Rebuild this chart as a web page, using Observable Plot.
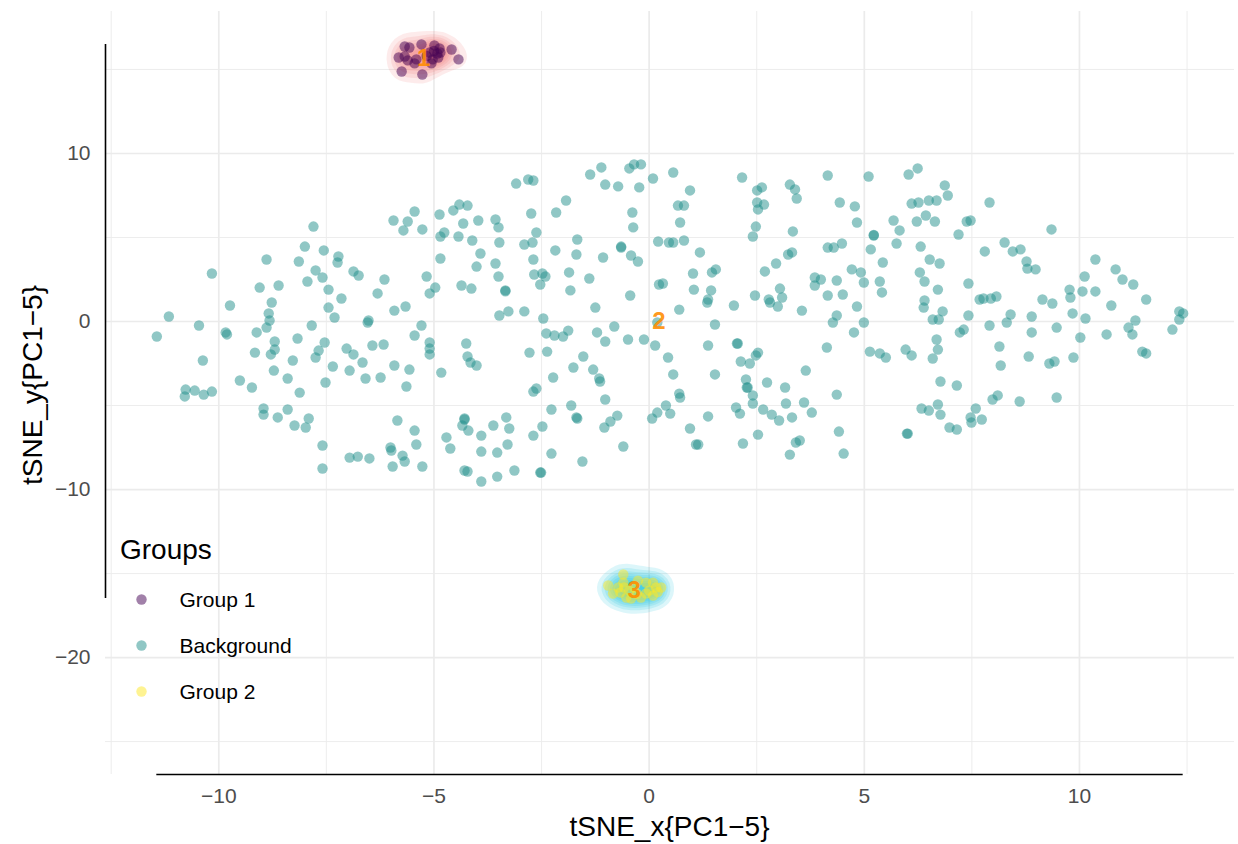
<!DOCTYPE html>
<html><head><meta charset="utf-8">
<script src="https://cdn.jsdelivr.net/npm/d3@7"></script>
<script src="https://cdn.jsdelivr.net/npm/@observablehq/plot@0.6"></script>
<style>
body{margin:0;background:#fff}
#wrap{position:relative;width:1238px;height:844px;font-family:"Liberation Sans",Arial,Helvetica,sans-serif}
#wrap svg.overlay{position:absolute;left:0;top:0;pointer-events:none}
</style>
</head><body><div id="wrap"></div>
<script>
// ---------- data (t-SNE coordinates) ----------
const groupNames = ["Group 1", "Background", "Group 2"];
const groupColors = ["#440154", "#21908C", "#FDE725"];

const backgroundXY = [
[-10.16,2.86],[-8.89,3.69],[-9.05,2.02],[-8.61,2.14],[-8.14,3.57],[-8.00,4.46],[-7.80,5.65],[-7.56,4.23],[-7.75,3.04],[-7.94,2.38],
[-7.59,2.62],[-7.45,1.90],[-7.22,3.87],[-7.24,3.51],[-6.87,2.98],[-6.75,2.74],[-6.15,2.50],[-6.31,1.67],[-7.15,1.37],[-5.94,6.01],
[-5.61,5.95],[-5.45,6.55],[-5.71,5.42],[-5.27,5.48],[-4.87,6.37],[-4.55,6.61],[-4.41,6.96],[-4.22,6.90],[-4.32,5.83],[-3.97,6.01],
[-4.85,5.06],[-4.76,5.30],[-4.43,5.06],[-4.11,4.82],[-3.92,4.05],[-4.01,3.27],[-3.57,6.07],[-3.50,5.60],[-3.48,4.70],[-3.57,3.45],
[-3.50,2.68],[-4.85,3.75],[-5.17,2.68],[-4.97,2.02],[-5.10,1.67],[-4.36,2.14],[-4.13,1.96],[-8.77,1.13],[-7.45,0.83],[-7.31,0.24],
[-5.92,0.65],[-5.66,0.89],[-3.48,0.36],[-8.84,0.48],[-8.82,0.06],[-8.89,-0.36],[-9.74,0.95],[-11.16,0.30],[-11.44,-0.89],[-10.46,-0.24],
[-9.84,-0.65],[-9.81,-0.77],[-10.37,-2.32],[-9.12,-0.65],[-8.70,-1.19],[-8.70,-1.67],[-8.79,-1.96],[-9.16,-1.85],[-8.28,-2.32],[-8.17,-1.01],
[-7.84,-0.24],[-7.68,-1.73],[-7.75,-2.14],[-7.54,-1.25],[-7.35,-2.68],[-6.96,-2.92],[-7.03,-1.61],[-6.87,-1.96],[-6.66,-2.44],[-6.59,-3.39],
[-6.43,-1.43],[-6.17,-1.37],[-6.24,-3.33],[-5.92,-2.62],[-5.57,-2.86],[-5.64,-3.87],[-5.45,-0.83],[-5.29,-0.24],[-5.10,-1.25],[-5.10,-1.61],
[-5.10,-1.96],[-4.83,-3.04],[-4.25,-1.31],[-4.22,-2.08],[-4.15,-2.44],[-4.01,-2.62],[-6.54,-0.06],[-6.52,0.06],[-8.72,-2.92],[-8.40,-3.39],
[-8.12,-4.23],[-9.51,-3.51],[-9.23,-3.93],[-7.52,-3.63],[-10.77,-4.05],[-10.79,-4.46],[-10.56,-4.11],[-10.35,-4.35],[-10.16,-4.17],[-8.96,-5.18],
[-8.96,-5.54],[-8.63,-5.71],[-8.40,-5.24],[-8.24,-6.19],[-7.98,-6.31],[-7.91,-5.77],[-7.59,-7.38],[-7.59,-8.75],[-6.96,-8.10],[-6.77,-8.04],
[-6.50,-8.15],[-6.01,-7.50],[-5.99,-7.68],[-5.96,-8.63],[-5.73,-7.98],[-5.68,-8.33],[-5.85,-5.89],[-5.45,-6.49],[-5.41,-7.32],[-5.27,-8.63],
[-4.71,-6.90],[-4.62,-7.56],[-4.29,-5.83],[-4.29,-5.77],[-4.34,-6.19],[-4.20,-6.49],[-3.90,-6.79],[-3.90,-7.74],[-3.53,-7.80],[-3.62,-6.19],
[-3.53,-9.23],[-4.29,-8.87],[-4.22,-8.93],[-3.90,-9.52],
[-1.37,8.75],[-1.11,9.17],[-1.02,8.15],[-0.72,8.04],[-0.46,9.11],[-0.35,9.35],[-0.19,9.35],[-0.23,7.98],[0.09,8.51],[0.56,8.87],
[0.95,7.80],[0.67,6.90],[0.81,6.90],[0.72,5.89],[0.81,4.82],[0.21,4.76],[0.46,4.70],[0.56,4.70],[1.18,4.11],[1.02,2.86],
[1.04,1.90],[1.46,2.92],[1.55,3.10],[1.44,1.85],[0.23,2.20],[0.32,2.26],[-0.44,1.55],[-0.42,3.93],[-0.26,3.57],[-0.37,5.60],
[-0.39,6.49],[-0.65,4.40],[-0.65,4.46],[-1.07,3.81],[-1.39,2.56],[-1.83,1.85],[-1.86,2.92],[-1.69,3.99],[-1.67,4.88],[-2.18,4.23],
[-2.16,6.49],[-1.93,7.20],[-2.74,6.43],[-2.62,5.30],[-2.71,4.70],[-2.90,4.58],[-2.69,3.69],[-2.67,2.80],[-2.53,2.20],[-2.48,2.86],
[-2.41,2.68],[-2.81,8.45],[-2.69,8.39],[-3.09,8.21],[2.16,8.57],[2.51,7.80],[2.62,7.98],[2.51,7.08],[2.67,6.96],[2.53,6.67],
[2.48,5.65],[2.41,5.06],[3.27,8.15],[3.39,7.86],[3.43,7.32],[3.34,5.36],[3.32,4.11],[3.23,3.99],[4.15,8.69],[4.43,7.08],
[4.78,6.85],[4.83,5.89],[5.10,8.63],[5.22,5.12],[5.22,5.15],[5.15,4.29],[5.43,3.51],[5.68,6.01],[5.82,5.42],[5.75,4.64],
[4.71,3.10],[4.92,2.92],[4.99,2.32],[5.36,2.38],[5.41,1.73],[4.15,4.40],[4.29,4.40],[4.48,4.64],[4.36,2.44],[4.15,1.55],
[4.50,1.61],[3.85,2.62],[3.99,2.50],[3.85,2.14],[2.69,2.98],[2.95,3.45],[2.46,1.55],[3.04,1.96],[3.09,1.43],[2.78,1.31],
[1.37,1.31],[-3.34,1.85],[-3.34,1.80],
[-2.90,0.60],[-3.27,0.60],[-1.25,0.83],[1.35,1.13],[1.97,0.95],[2.81,1.13],[2.99,0.89],[3.55,0.65],[4.83,0.89],[4.36,0.36],
[4.27,-0.06],[4.99,-0.06],[4.76,-0.65],[4.13,-1.55],[5.13,-1.79],[5.36,-1.90],[5.50,-2.14],[-2.46,0.18],[-2.39,-0.71],[-2.20,-0.83],
[-2.00,-0.89],[-1.88,-0.54],[-1.21,-0.65],[-1.02,-1.19],[-0.81,-0.30],[-0.49,-1.07],[-0.12,-1.07],[0.14,-1.43],[0.19,-0.06],[0.44,-2.14],
[0.56,-3.15],[0.70,0.71],[1.53,-0.18],[1.37,-1.43],[1.53,-3.15],[2.04,-1.31],[2.06,-1.31],[2.13,-2.38],[2.34,-2.50],[2.48,-2.02],
[2.53,-1.85],[2.25,-3.45],[2.27,-3.93],[2.29,-3.93],[2.41,-4.40],[2.41,-4.88],[2.65,-5.24],[2.74,-3.63],[2.85,-5.54],[3.02,-5.89],
[3.16,-3.93],[3.18,-4.88],[3.32,-5.71],[3.60,-4.82],[3.64,-2.92],[3.78,-5.42],[4.36,-4.35],[4.41,-6.55],[4.52,-7.86],[2.53,-6.73],
[2.18,-7.26],[3.41,-7.20],[3.50,-7.08],[3.27,-7.92],[2.02,-5.12],[2.11,-5.48],[1.37,-5.65],[0.95,-6.37],[1.09,-7.32],[1.14,-7.32],
[0.70,-4.29],[0.72,-4.52],[0.39,-5.00],[0.49,-5.48],[0.19,-5.42],[0.07,-5.77],[-0.60,-7.44],[-0.74,-5.60],[-0.90,-5.95],[-1.04,-6.31],
[-1.02,-4.64],[-1.14,-3.57],[-1.16,-3.39],[-1.30,-2.86],[-1.53,-2.08],[-1.76,-2.74],[-2.23,-3.33],[-2.37,-1.79],[-2.78,-1.85],[-2.62,-3.99],
[-2.69,-4.17],[-1.81,-5.00],[-1.69,-5.71],[-1.67,-5.77],[-2.27,-5.24],[-2.48,-6.25],[-2.69,-6.79],[-3.32,-5.71],[-3.25,-6.37],[-3.29,-7.32],
[-2.27,-7.86],[-1.55,-8.33],[-3.13,-8.87],[-2.53,-8.99],[-2.51,-8.99],
[6.03,8.75],[6.24,9.11],[6.87,8.10],[6.94,7.50],[6.10,7.02],[6.26,7.08],[6.50,7.20],[6.68,7.20],[6.43,6.31],[6.22,5.95],
[6.64,5.95],[6.31,4.46],[7.19,5.18],[7.38,5.95],[7.47,6.01],[7.91,7.08],[9.35,5.48],[8.26,4.70],[7.80,4.17],[8.45,4.17],
[8.63,4.29],[8.77,3.57],[8.79,3.15],[8.98,3.10],[6.52,3.69],[6.75,3.45],[6.29,2.92],[6.40,2.38],[6.71,1.90],[7.42,2.26],
[7.68,1.31],[7.77,1.37],[7.94,1.37],[8.07,1.49],[9.14,1.31],[9.77,1.90],[9.79,1.43],[10.07,1.79],[10.37,1.79],[10.12,2.68],
[10.37,3.69],[10.84,3.10],[11.00,2.50],[11.25,2.20],[11.55,1.31],
[6.40,1.25],[6.38,0.83],[6.82,0.60],[6.59,0.12],[6.73,0.12],[7.42,0.36],[8.40,0.42],[8.31,-0.06],[7.91,-0.24],[8.89,0.30],
[8.89,-0.65],[9.37,1.07],[10.74,0.95],[9.84,0.48],[10.14,0.18],[9.47,-0.36],[10.02,-0.95],[10.63,-0.77],[11.14,-0.36],[11.23,-0.77],
[11.30,0.06],[12.16,-0.48],[12.32,0.60],[12.41,0.48],[12.32,0.12],[11.46,-1.79],[11.55,-1.90],[9.86,-2.14],[8.82,-2.08],[9.30,-2.50],
[9.42,-2.38],[8.14,-1.49],[8.17,-2.62],[7.22,-0.65],[7.31,-0.48],[6.68,-1.07],[6.71,-1.67],[6.59,-2.20],[5.96,-1.67],[6.10,-2.02],
[6.77,-3.57],[7.15,-3.81],[6.33,-5.18],[6.50,-5.30],[6.71,-4.94],[6.77,-5.54],[6.98,-6.31],[7.15,-6.43],[7.47,-5.71],[7.59,-5.18],
[7.73,-5.83],[7.49,-6.01],[7.98,-4.64],[8.10,-4.40],[8.61,-4.76],[9.47,-4.52],[5.99,-6.67],[6.01,-6.67]
];

const group1XY = [
[-5.68,16.37],[-5.57,16.31],[-5.29,16.49],[-4.99,16.43],[-4.87,16.25],[-4.59,16.19],[-5.82,15.71],[-5.68,15.77],[-5.61,15.54],[-5.45,15.36],
[-5.41,15.60],[-5.10,16.01],[-5.03,15.60],[-4.92,15.95],[-4.85,16.01],[-4.90,15.71],[-5.06,15.36],[-4.43,15.60],[-5.75,14.88],[-5.27,14.70],
[-5.00,16.10],[-5.17,15.80]
];

const group2XY = [
[-0.60,-15.06],[-0.60,-15.54],[-0.72,-15.83],[-0.84,-16.19],[-0.67,-16.13],[-0.53,-16.43],[-0.42,-16.49],[-0.26,-15.42],[-0.07,-15.54],[0.09,-15.54],
[0.16,-15.83],[0.00,-16.01],[-0.07,-16.19],[0.09,-16.31],[-0.19,-16.43],[0.28,-15.83],[-0.35,-15.83],[-0.58,-15.83],[-0.46,-16.01],[-0.95,-15.71],
[-0.28,-16.20],[0.20,-16.10]
];

const clusterLabels = ["1", "2", "3"];
const clusterLabelX = [-5.24, 0.23, -0.35];
const clusterLabelY = [15.65, 0.00, -16.01];

const xMajorTicks = [-10, -5, 0, 5, 10];
const xMinorTicks = [-12.5, -7.5, -2.5, 2.5, 7.5, 12.5];
const yMajorTicks = [-20, -10, 0, 10];
const yMinorTicks = [-25, -15, -5, 5, 15];
const xTitle = "tSNE_x{PC1\u22125}";
const yTitle = "tSNE_y{PC1\u22125}";
const legendTitle = "Groups";

// ---------- build ----------
const toRows = (arr, g) => arr.map(([x, y]) => ({x, y, group: g}));
const bg = toRows(backgroundXY, groupNames[1]);
const g1 = toRows(group1XY, groupNames[0]);
const g2 = toRows(group2XY, groupNames[2]);
const all = [...g1, ...bg, ...g2];
const labels = clusterLabels.map((t, i) => ({t, x: clusterLabelX[i], y: clusterLabelY[i]}));

const xExt = d3.extent(all, d => d.x);
const yExt = d3.extent(all, d => d.y);
const xSpan = xExt[1] - xExt[0];
const xDomain = [xExt[0] - 0.05 * xSpan, xExt[1] + 0.05 * xSpan];
const yDomain = [-26.96, 18.45];

const fmt = d => (d < 0 ? "\u2212" + Math.abs(d) : String(d));
const grid = "#EBEBEB";

const chart = Plot.plot({
  width: 1238, height: 844,
  marginLeft: 105, marginRight: 4, marginTop: 11, marginBottom: 70,
  x: {domain: xDomain},
  y: {domain: yDomain},
  style: {fontFamily: '"Liberation Sans", Arial, Helvetica, sans-serif', fontSize: "21px", color: "#4D4D4D", background: "white"},
  marks: [
    Plot.gridX(xMinorTicks, {stroke: grid, strokeOpacity: 1, strokeWidth: 0.9}),
    Plot.gridY(yMinorTicks, {stroke: grid, strokeOpacity: 1, strokeWidth: 0.9}),
    Plot.gridX(xMajorTicks, {stroke: grid, strokeOpacity: 1, strokeWidth: 1.7}),
    Plot.gridY(yMajorTicks, {stroke: grid, strokeOpacity: 1, strokeWidth: 1.7}),
    Plot.density(g1, {x: "x", y: "y", bandwidth: 7, thresholds: 10, fill: "#EE5E5E", fillOpacity: 0.12, stroke: "none"}),
    Plot.density(g2, {x: "x", y: "y", bandwidth: 7, thresholds: 10, fill: "#14C4DC", fillOpacity: 0.15, stroke: "none"}),
    Plot.dot(bg, {x: "x", y: "y", r: 5.2, fill: groupColors[1], fillOpacity: 0.5, stroke: "none"}),
    Plot.dot(g1, {x: "x", y: "y", r: 5.2, fill: groupColors[0], fillOpacity: 0.5, stroke: "none"}),
    Plot.dot(g2, {x: "x", y: "y", r: 5.2, fill: groupColors[2], fillOpacity: 0.5, stroke: "none"}),
    Plot.text(labels, {x: "x", y: "y", text: "t", fill: "#FF8C00", fontSize: 24, fontWeight: "bold", fillOpacity: 0.9}),
    Plot.ruleX([{x: xDomain[0], y1: yExt[0], y2: yExt[1]}], {x: "x", y1: "y1", y2: "y2", stroke: "black", strokeWidth: 1.6}),
    Plot.ruleY([{y: yDomain[0], x1: xExt[0], x2: xExt[1]}], {y: "y", x1: "x1", x2: "x2", stroke: "black", strokeWidth: 1.6}),
    Plot.axisX(xMajorTicks, {tickSize: 0, tickPadding: 14, tickFormat: fmt, label: null, fontSize: 21}),
    Plot.axisY(yMajorTicks, {tickSize: 0, tickPadding: 15, tickFormat: fmt, label: null, fontSize: 21})
  ]
});

const wrap = document.getElementById("wrap");
wrap.append(chart);

// ---------- overlay: axis titles and legend ----------
const ov = d3.select(wrap).append("svg").attr("class", "overlay")
  .attr("width", 1238).attr("height", 844)
  .style("font-family", '"Liberation Sans", Arial, Helvetica, sans-serif');

ov.append("text").attr("x", 669.5).attr("y", 836).attr("text-anchor", "middle")
  .attr("font-size", 28).attr("fill", "black").text(xTitle);
ov.append("text").attr("transform", "translate(42,385) rotate(-90)").attr("text-anchor", "middle")
  .attr("font-size", 28).attr("fill", "black").text(yTitle);

ov.append("text").attr("x", 120).attr("y", 559).attr("font-size", 28).attr("fill", "black").text(legendTitle);
groupNames.forEach((name, i) => {
  const cy = 599.5 + i * 46;
  ov.append("circle").attr("cx", 141.5).attr("cy", cy).attr("r", 5.2)
    .attr("fill", groupColors[i]).attr("fill-opacity", 0.5);
  ov.append("text").attr("x", 179.5).attr("y", cy + 7.6).attr("font-size", 21).attr("fill", "black").text(name);
});
</script>
</body></html>
